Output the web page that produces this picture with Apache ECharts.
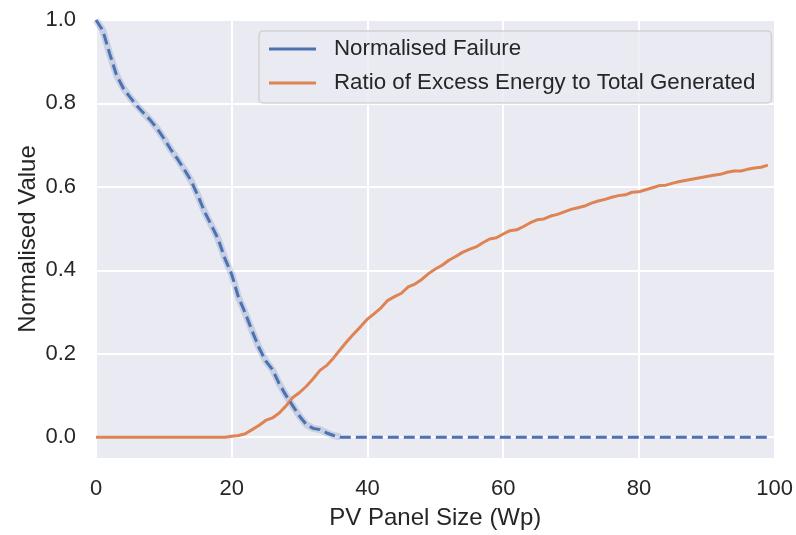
<!DOCTYPE html>
<html>
<head>
<meta charset="utf-8">
<script src="https://cdn.jsdelivr.net/npm/echarts@6/dist/echarts.min.js"></script>
<style>
  html, body { margin: 0; padding: 0; background: #ffffff; }
  #chart { width: 796px; height: 535px; }
</style>
</head>
<body>
<div id="chart"></div>
<script>
// PV panel sizes (Wp), one sample per watt
const panelSizes = Array.from({ length: 100 }, (_, i) => i);

// Normalised failure for each panel size
const normalisedFailure = [
  1.000, 0.975, 0.920, 0.869, 0.837, 0.815, 0.795, 0.777, 0.760, 0.740,
  0.716, 0.690, 0.667, 0.642, 0.615, 0.580, 0.540, 0.508, 0.475, 0.428,
  0.390, 0.335, 0.297, 0.255, 0.215, 0.183, 0.162, 0.128, 0.100, 0.075,
  0.050, 0.030, 0.021, 0.018, 0.010, 0.004, 0.000, 0.000, 0.000, 0.000,
  0, 0, 0, 0, 0, 0, 0, 0, 0, 0,
  0, 0, 0, 0, 0, 0, 0, 0, 0, 0,
  0, 0, 0, 0, 0, 0, 0, 0, 0, 0,
  0, 0, 0, 0, 0, 0, 0, 0, 0, 0,
  0, 0, 0, 0, 0, 0, 0, 0, 0, 0,
  0, 0, 0, 0, 0, 0, 0, 0, 0, 0
];

// Ratio of excess energy to total energy generated
const excessRatio = [
  0, 0, 0, 0, 0, 0, 0, 0, 0, 0,
  0, 0, 0, 0, 0, 0, 0, 0, 0, 0,
  0.002, 0.004, 0.008, 0.018, 0.028, 0.040, 0.046, 0.058, 0.075, 0.095,
  0.107, 0.122, 0.140, 0.160, 0.172, 0.190, 0.210, 0.230, 0.248, 0.265,
  0.283, 0.296, 0.310, 0.328, 0.337, 0.345, 0.360, 0.367, 0.378, 0.392,
  0.403, 0.412, 0.424, 0.433, 0.443, 0.450, 0.456, 0.466, 0.475, 0.478,
  0.487, 0.495, 0.497, 0.505, 0.514, 0.521, 0.523, 0.530, 0.534, 0.540,
  0.546, 0.550, 0.554, 0.561, 0.566, 0.570, 0.575, 0.579, 0.581, 0.587,
  0.588, 0.593, 0.598, 0.603, 0.604, 0.609, 0.613, 0.616, 0.619, 0.622,
  0.625, 0.628, 0.630, 0.635, 0.638, 0.638, 0.642, 0.645, 0.647, 0.652
];

const xTicks = [0, 20, 40, 60, 80, 100];
const yTicks = [0, 0.2, 0.4, 0.6, 0.8, 1.0];

const seriesNames = ['Normalised Failure', 'Ratio of Excess Energy to Total Generated'];

const BLUE = '#4C72B0';
const ORANGE = '#DD8452';
const TEXT = '#262626';
const FONT = '"Liberation Sans", Arial, sans-serif';

const pairs = (ys) => panelSizes.map((x, i) => [x, ys[i]]);

// faint spread band under the failure curve where runs differ
const bandEnd = 36;
const failureBand = panelSizes.map((x, i) => [x, i <= bandEnd ? normalisedFailure[i] : null]);

const chart = echarts.init(document.getElementById('chart'), null, { renderer: 'canvas' });

chart.setOption({
  backgroundColor: '#ffffff',
  animation: false,
  grid: {
    left: 96, right: 20, top: 20, bottom: 74.5,
    show: true, backgroundColor: '#EAEAF2', borderWidth: 0
  },
  xAxis: {
    type: 'value', min: xTicks[0], max: xTicks[xTicks.length - 1], interval: 20,
    name: 'PV Panel Size (Wp)', nameLocation: 'middle', nameGap: 48,
    nameTextStyle: { color: TEXT, fontSize: 24, fontFamily: FONT },
    axisLine: { show: false }, axisTick: { show: false },
    axisLabel: { color: TEXT, fontSize: 22, fontFamily: FONT, margin: 20 },
    splitLine: { show: true, lineStyle: { color: '#ffffff', width: 2 } }
  },
  yAxis: {
    type: 'value', min: -0.05, max: 1.0,
    name: 'Normalised Value', nameLocation: 'middle', nameGap: 56, nameRotate: 90,
    nameMoveOverlap: false,
    nameTextStyle: { color: TEXT, fontSize: 24, fontFamily: FONT },
    axisLine: { show: false },
    axisTick: { show: false, customValues: yTicks },
    axisLabel: {
      color: TEXT, fontSize: 22, fontFamily: FONT, margin: 20,
      customValues: yTicks, formatter: (v) => v.toFixed(1)
    },
    splitLine: { show: true, lineStyle: { color: '#ffffff', width: 2 } }
  },
  legend: {
    show: true,
    data: seriesNames,
    orient: 'vertical', left: 259, top: 31,
    itemWidth: 47, itemHeight: 24, itemGap: 12,
    padding: [7, 16, 9, 8.5],
    backgroundColor: 'rgba(234,234,242,0.8)',
    borderColor: 'rgba(204,204,204,0.8)', borderWidth: 1.5, borderRadius: 4,
    itemStyle: { opacity: 0 },
    lineStyle: { type: 'solid', width: 3, opacity: 1 },
    textStyle: { color: TEXT, fontSize: 22.3, fontFamily: FONT, padding: [0, 0, 0, 13] }
  },
  series: [
    {
      type: 'line', data: failureBand, symbol: 'none', silent: true,
      lineStyle: { color: BLUE, width: 7, opacity: 0.22 }, z: 1
    },
    {
      name: seriesNames[0], type: 'line', data: pairs(normalisedFailure),
      symbol: 'none', color: BLUE,
      lineStyle: { color: BLUE, width: 3, type: [11, 5] }, z: 3
    },
    {
      name: seriesNames[1], type: 'line', data: pairs(excessRatio),
      symbol: 'none', color: ORANGE,
      lineStyle: { color: ORANGE, width: 3 }, z: 2
    }
  ]
});
</script>
</body>
</html>
